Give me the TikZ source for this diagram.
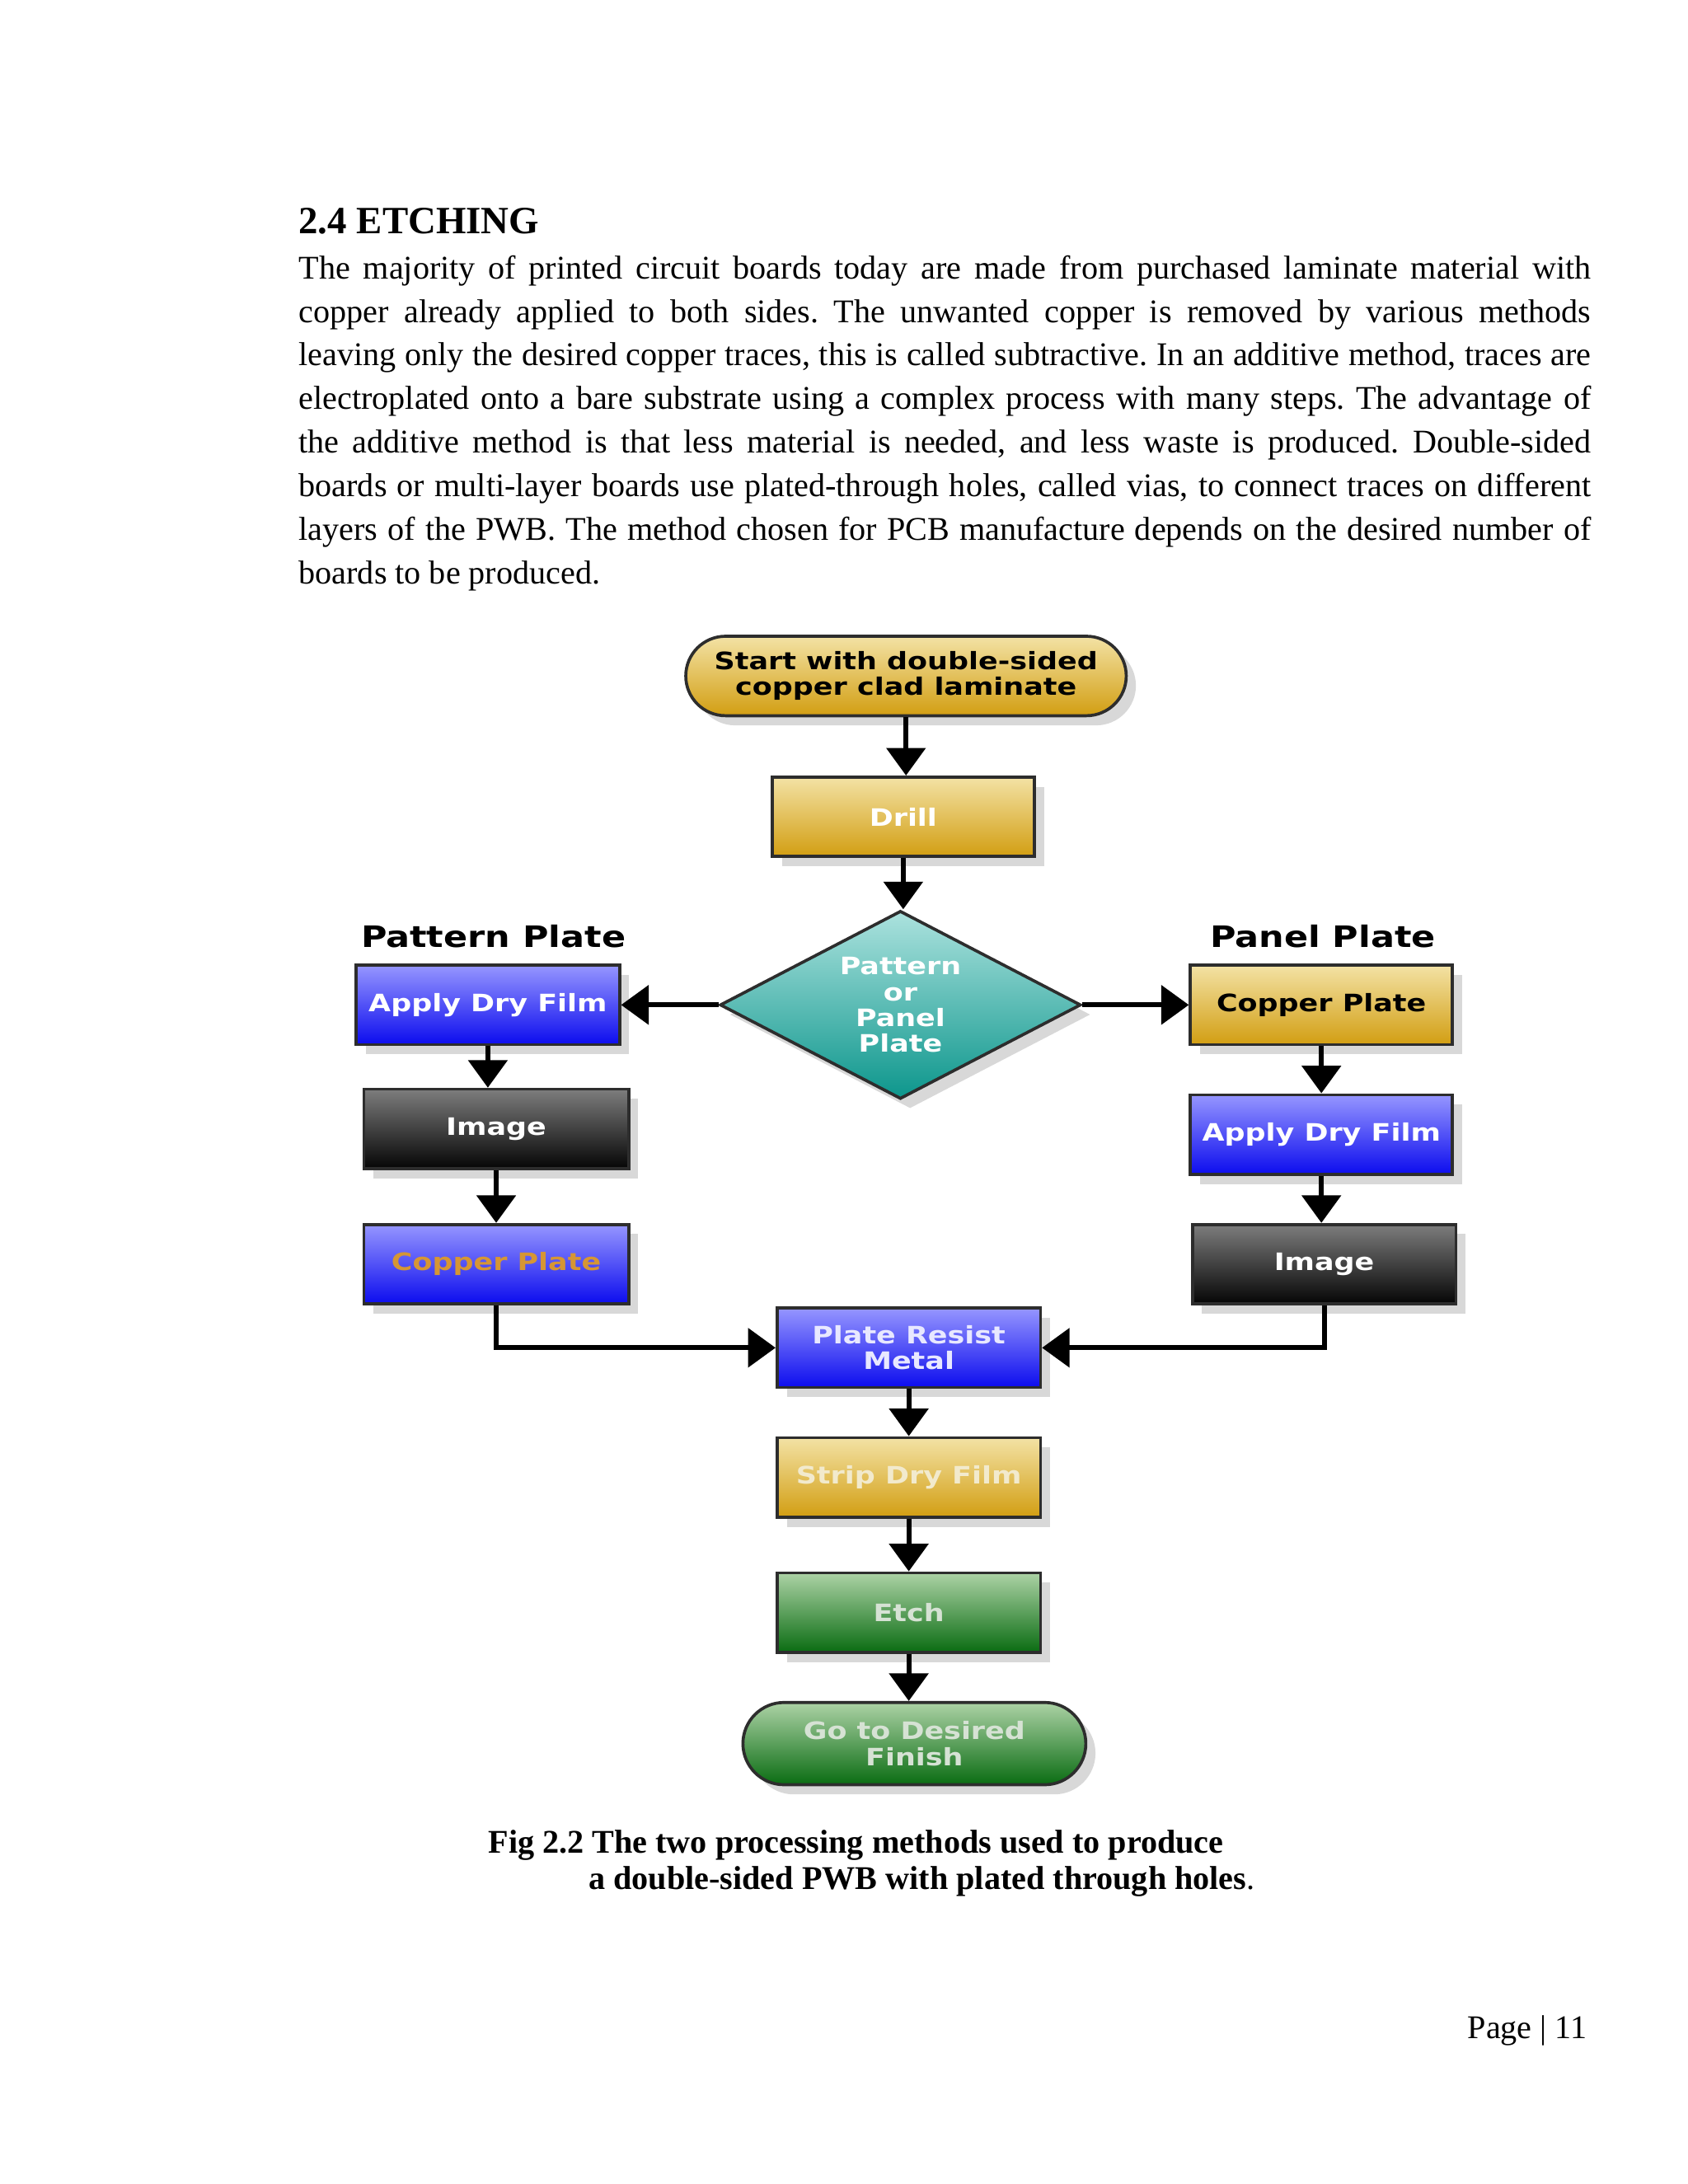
\documentclass[tikz,border=0pt]{standalone}
\usepackage{fontspec}
\setmainfont{Liberation Serif}
\newfontfamily\dfont{DejaVu Sans}[FakeStretch=1.2]
\usetikzlibrary{shapes.geometric,shapes.misc,shadows,arrows.meta}
\newcommand{\pxu}{0.50537pt}
\definecolor{goldT}{RGB}{243,226,165}
\definecolor{goldB}{RGB}{210,158,18}
\definecolor{blueT}{RGB}{150,150,255}
\definecolor{blueB}{RGB}{12,12,238}
\definecolor{blkT}{RGB}{125,125,125}
\definecolor{blkB}{RGB}{5,5,5}
\definecolor{tealT}{RGB}{172,226,222}
\definecolor{tealB}{RGB}{12,150,140}
\definecolor{grnT}{RGB}{172,210,165}
\definecolor{grnB}{RGB}{10,108,18}
\definecolor{edgec}{RGB}{45,45,45}
\definecolor{orangetxt}{RGB}{214,150,52}
\definecolor{creamtxt}{RGB}{242,234,205}
\definecolor{greytxt}{RGB}{214,226,212}
\definecolor{lavtxt}{RGB}{232,232,255}
\tikzset{
  basebox/.style={draw=edgec, line width=1.1pt, align=center, inner sep=0pt,
    font=\dfont\bfseries\fontsize{8.7}{9.3}\selectfont,
    drop shadow={shadow xshift=3.5pt, shadow yshift=-3.5pt, fill=black!30}},
  rbox/.style={basebox, rectangle, minimum width=189*\pxu, minimum height=57*\pxu},
  term/.style={basebox, rounded rectangle},
  goldfill/.style={top color=goldT, bottom color=goldB},
  bluefill/.style={top color=blueT, bottom color=blueB},
  blkfill/.style={top color=blkT, bottom color=blkB},
  grnfill/.style={top color=grnT, bottom color=grnB},
  arr/.style={line width=1.8pt, -{Triangle[width=14pt,length=10pt]}},
  lbl/.style={font=\dfont\bfseries\fontsize{10.7}{12}\selectfont, inner sep=0pt},
  bodyline/.style={anchor=base west, inner sep=0pt, font=\fontsize{12}{15}\selectfont}
}
\newcommand{\jl}[1]{\makebox[468.5pt][s]{#1}}
\begin{document}
\frenchspacing
\begin{tikzpicture}[x=0.50537pt,y=-0.50537pt]
\fill[white] (0,0) rectangle (1211,1567);
\useasboundingbox (0,0) rectangle (1211,1567);

% heading and body text
\node[anchor=base west, inner sep=0pt, font=\bfseries\fontsize{14}{16}\selectfont] (head) at (214,167.5) {2.4 ETCHING};
\node[bodyline] (b1) at (214,200) {\jl{The majority of printed circuit boards today are made from purchased laminate material with}};
\node[bodyline] (b2) at (214,231.25) {\jl{copper already applied to both sides. The unwanted copper is removed by various methods}};
\node[bodyline] (b3) at (214,262.5) {\jl{leaving only the desired copper traces, this is called subtractive. In an additive method, traces are}};
\node[bodyline] (b4) at (214,293.75) {\jl{electroplated onto a bare substrate using a complex process with many steps. The advantage of}};
\node[bodyline] (b5) at (214,325) {\jl{the additive method is that less material is needed, and less waste is produced. Double-sided}};
\node[bodyline] (b6) at (214,356.25) {\jl{boards or multi-layer boards use plated-through holes, called vias, to connect traces on different}};
\node[bodyline] (b7) at (214,387.5) {\jl{layers of the PWB. The method chosen for PCB manufacture depends on the desired number of}};
\node[bodyline] (b8) at (214,418.75) {boards to be produced.};

% flowchart
\node[term, goldfill, minimum width=316*\pxu, minimum height=57*\pxu, text=black] (start) at (650,485) {Start with double-sided\\copper clad laminate};
\node[rbox, goldfill, text=white, minimum width=188*\pxu] (drill) at (648,586) {Drill};
\node[basebox, diamond, aspect=1.92, top color=tealT, bottom color=tealB, text=white,
      font=\dfont\bfseries\fontsize{8.7}{9.4}\selectfont,
      minimum width=259*\pxu, minimum height=135*\pxu] (dec) at (646,721) {Pattern\\or\\Panel\\Plate};

\node[lbl] (pplab) at (354,672) {Pattern Plate};
\node[lbl] (pnlab) at (949,672) {Panel Plate};

\node[rbox, bluefill, text=white] (apL) at (350,721) {Apply Dry Film};
\node[rbox, blkfill, text=white, minimum width=190*\pxu] (imL) at (356,810) {Image};
\node[rbox, bluefill, text=orangetxt, minimum width=190*\pxu] (cpL) at (356,907) {Copper Plate};

\node[rbox, goldfill, text=black, minimum width=188*\pxu] (cpR) at (948,721) {Copper Plate};
\node[rbox, bluefill, text=white, minimum width=188*\pxu] (apR) at (948,814) {Apply Dry Film};
\node[rbox, blkfill, text=white] (imR) at (950,907) {Image};

\node[rbox, bluefill, text=lavtxt] (prm) at (652,967) {Plate Resist\\Metal};
\node[rbox, goldfill, text=creamtxt] (strip) at (652,1060) {Strip Dry Film};
\node[rbox, grnfill, text=greytxt] (etch) at (652,1157) {Etch};
\node[term, grnfill, text=greytxt, minimum width=246*\pxu, minimum height=59*\pxu] (fin) at (656,1251) {Go to Desired\\Finish};

% connectors
\draw[arr] (start.south) -- (start.south |- drill.north);
\draw[arr] (drill.south) -- (drill.south |- dec.north);
\draw[arr] (dec.west) -- (apL.east);
\draw[arr] (dec.east) -- (cpR.west);
\draw[arr] (apL.south) -- (apL.south |- imL.north);
\draw[arr] (imL.south) -- (cpL.north);
\draw[arr] (cpR.south) -- (apR.north);
\draw[arr] (apR.south) -- (apR.south |- imR.north);
\draw[arr] (cpL.south) |- (prm.west);
\draw[arr] (imR.south) |- (prm.east);
\draw[arr] (prm.south) -- (strip.north);
\draw[arr] (strip.south) -- (etch.north);
\draw[arr] (etch.south) -- (etch.south |- fin.north);

% caption and page number
\node[anchor=base west, inner sep=0pt, font=\bfseries\fontsize{12}{14}\selectfont] (cap1) at (350,1329.5) {Fig 2.2 The two processing methods used to produce};
\node[anchor=base west, inner sep=0pt, font=\fontsize{12}{14}\selectfont] (cap2) at (422,1355.5) {\textbf{a double-sided PWB with plated through holes}.};
\node[anchor=base east, inner sep=0pt, font=\fontsize{12}{14}\selectfont] (page) at (1139,1462.5) {Page | 11};
\end{tikzpicture}
\end{document}
